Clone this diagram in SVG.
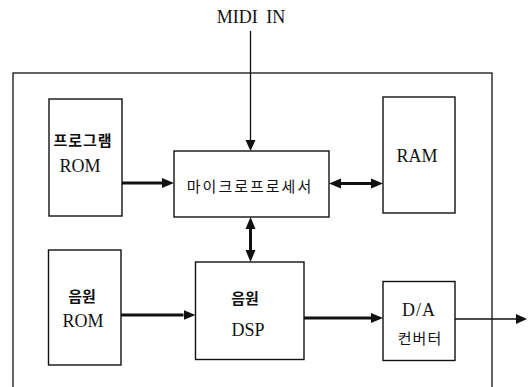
<svg xmlns="http://www.w3.org/2000/svg" width="532" height="387" viewBox="0 0 532 387">
<style>
  .box { fill: #fff; stroke: #111; stroke-width: 1.4; }
  .frame { fill: none; stroke: #111; stroke-width: 1.3; }
  .lat { font-family: "Liberation Serif", "Times New Roman", serif; font-size: 18px; fill: #111; text-anchor: middle; }
  .kor { font-family: "Noto Sans CJK KR", "Noto Sans", sans-serif; font-size: 15px; fill: #111; text-anchor: middle; }
  .thick { fill: none; stroke: #111; stroke-width: 3; }
  .thin { fill: none; stroke: #111; stroke-width: 1.3; }
</style>
<defs>
  <marker id="ah" viewBox="0 -6 12 12" refX="0" refY="0" markerWidth="12" markerHeight="12" markerUnits="userSpaceOnUse" orient="auto-start-reverse">
    <path d="M0,-5 L12,0 L0,5 z" fill="#111"/>
  </marker>
  <marker id="ahThin" viewBox="0 -6 12 12" refX="0" refY="0" markerWidth="12" markerHeight="12" markerUnits="userSpaceOnUse" orient="auto-start-reverse">
    <path d="M0,-5 L11,0 L0,5 z" fill="#111"/>
  </marker>
</defs>

<rect class="frame" x="13" y="73" width="479" height="340"/>

<text class="lat" x="251" y="23" word-spacing="4">MIDI IN</text>

<g id="connectors">
  <line class="thin" x1="250.5" y1="31" x2="250.5" y2="140" marker-end="url(#ahThin)"/>
  <line class="thick" x1="122" y1="183" x2="162" y2="183" marker-end="url(#ah)"/>
  <line class="thick" x1="341" y1="183.5" x2="371" y2="183.5" marker-start="url(#ah)" marker-end="url(#ah)"/>
  <line class="thick" x1="250.5" y1="229" x2="250.5" y2="250" marker-start="url(#ah)" marker-end="url(#ah)"/>
  <line class="thick" x1="121" y1="315" x2="183.5" y2="315" marker-end="url(#ah)"/>
  <line class="thick" x1="304" y1="318" x2="371" y2="318" marker-end="url(#ah)"/>
  <line class="thin" x1="455" y1="319" x2="516" y2="319" marker-end="url(#ahThin)"/>
</g>

<g id="program-rom">
  <rect class="box" x="49" y="99" width="73" height="117"/>
  <text class="kor" x="83" y="146" font-weight="bold" letter-spacing="1">프로그램</text>
  <text class="lat" x="80" y="172">ROM</text>
</g>

<g id="microprocessor">
  <rect class="box" x="174" y="151" width="155" height="66"/>
  <text class="kor" x="250" y="192" font-size="16" letter-spacing="2">마이크로프로세서</text>
</g>

<g id="ram">
  <rect class="box" x="383" y="97" width="72" height="116"/>
  <text class="lat" x="417" y="162">RAM</text>
</g>

<g id="sound-rom">
  <rect class="box" x="48.5" y="250" width="72.5" height="115"/>
  <text class="kor" x="82" y="302" font-weight="bold">음원</text>
  <text class="lat" x="83" y="327">ROM</text>
</g>

<g id="sound-dsp">
  <rect class="box" x="195.5" y="262" width="108.5" height="97.5"/>
  <text class="kor" x="245" y="304" font-weight="bold">음원</text>
  <text class="lat" x="248" y="336">DSP</text>
</g>

<g id="da-converter">
  <rect class="box" x="383" y="281.5" width="72" height="79"/>
  <text class="lat" x="419" y="316" letter-spacing="1">D/A</text>
  <text class="kor" x="420" y="344" letter-spacing="1">컨버터</text>
</g>
</svg>
